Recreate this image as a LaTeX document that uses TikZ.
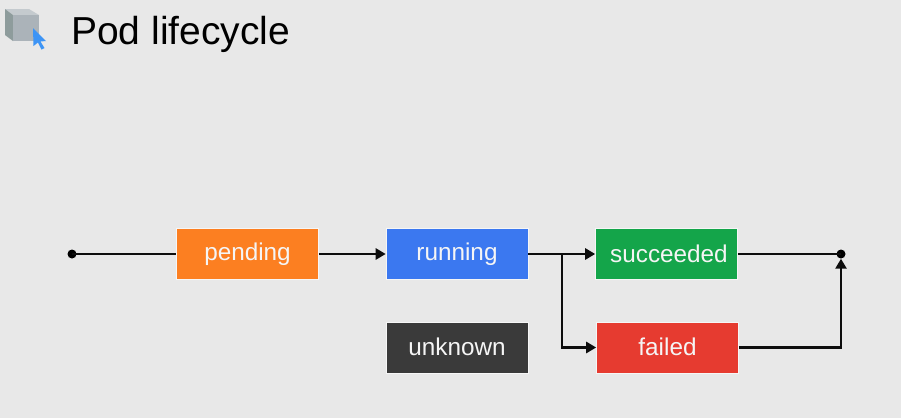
\documentclass[tikz,border=0pt]{standalone}
\usepackage{fontspec}
\setmainfont{Liberation Sans}
\usetikzlibrary{arrows.meta,calc}
\definecolor{bgc}{HTML}{E8E8E8}
\definecolor{cpend}{HTML}{FC7F21}
\definecolor{crun}{HTML}{3B78F0}
\definecolor{csucc}{HTML}{14A54A}
\definecolor{cfail}{HTML}{E63B30}
\definecolor{cunk}{HTML}{3A3A3A}
\definecolor{ctop}{HTML}{C4CACE}
\definecolor{cfront}{HTML}{ABB3B9}
\definecolor{cside}{HTML}{8E9C9C}
\definecolor{ccur}{HTML}{3D94F5}
\tikzset{
  statebox/.style={draw=white!60!bgc,line width=0.6pt,minimum width=142pt,minimum height=51pt,inner sep=0pt,text=white!96!black,font=\fontsize{24.3}{28}\selectfont},
  enddot/.style={circle,fill=black,inner sep=0pt,minimum size=9pt},
  flow/.style={line width=2.5pt,draw=black!95},
  tip/.style={-{Triangle[length=10pt,width=11pt]}}
}
\begin{document}
\begin{tikzpicture}[x=1pt,y=-1pt]
\useasboundingbox (0,0) rectangle (901,418);
\fill[bgc] (0,0) rectangle (901,418);
% icon
\fill[ctop] (5,9) -- (29,9) -- (39,15) -- (13,15) -- cycle;
\fill[cside] (5,9) -- (13,15) -- (13,41) -- (5,35) -- cycle;
\fill[cfront] (13,15) -- (39,15) -- (39,41) -- (13,41) -- cycle;
\fill[ccur] (33,28) -- (46,41) -- (40.5,41.5) -- (44.5,48) -- (41.5,49.5) -- (38,42.5) -- (33.5,46) -- cycle;
\node[anchor=base west,inner sep=0pt,font=\fontsize{39}{44}\selectfont,text=black] (title) at (71,44) {Pod lifecycle};
% states
\node[statebox,fill=cpend] (pending) at (247.5,254) {\raisebox{1pt}{pending}};
\node[statebox,fill=crun] (running) at (457,254) {\raisebox{1pt}{running}};
\node[statebox,fill=csucc] (succeeded) at (666.5,254) {\raisebox{1pt}{\hspace*{5pt}succeeded}};
\node[statebox,fill=cfail] (failed) at (667.5,347.5) {\raisebox{1pt}{failed}};
\node[statebox,fill=cunk] (unknown) at (457,347.5) {\raisebox{1pt}{unknown}};
\node[enddot] (start) at (72,254) {};
\node[enddot] (stop) at (841,254) {};
\coordinate (branch) at (562,254);
% connectors
\draw[flow] (start.center) -- (pending);
\draw[flow,tip] (pending) -- (running);
\draw[flow,tip] (running) -- (succeeded);
\draw[flow,tip] (branch) |- (failed);
\draw[flow] (succeeded) -- (stop.center);
\draw[flow,tip] (failed) -| (stop);
\end{tikzpicture}
\end{document}
